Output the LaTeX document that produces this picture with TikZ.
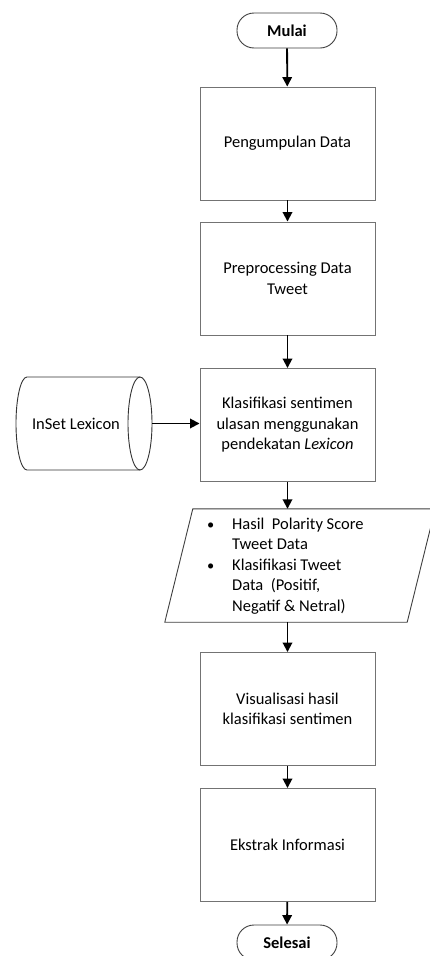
\documentclass[tikz,border=0pt]{standalone}
\usepackage{fontspec}
\setmainfont{Carlito}
\usetikzlibrary{arrows.meta}
\begin{document}
\begin{tikzpicture}[x=1pt,y=-1pt,
  every node/.style={font=\fontsize{16.5}{20.5}\selectfont, text=black},
  procbox/.style={draw=black!55, line width=0.9pt, minimum width=175pt, minimum height=113pt, inner sep=0pt, align=center},
  termbox/.style={draw=black!75, line width=0.9pt, rounded corners=17pt, minimum width=100pt, minimum height=35pt, inner sep=0pt, font=\fontsize{16.5}{18}\selectfont\bfseries},
  flow/.style={line width=1.8pt, -{Triangle[length=9.5pt,width=9.5pt]}}
]
\useasboundingbox (0,0) rectangle (430,956);
\fill[white] (0,0) rectangle (430,956);

\node[termbox] (mulai) at (287,30.5) {Mulai};
\node[procbox] (b1) at (287.5,143.5) {Pengumpulan Data};
\node[procbox] (b2) at (287.5,278.5) {Preprocessing Data\\Tweet};
\node[procbox] (b3) at (287.5,425) {Klasifikasi sentimen\\ulasan menggunakan\\pendekatan \textit{Lexicon}};
\node[draw=none, minimum width=242pt, minimum height=113pt, inner sep=0pt] (par) at (300,565.5) {};
\draw[black!75, line width=0.9pt] ([xshift=14pt]par.north west) -- ([xshift=14pt]par.north east)
  -- ([xshift=-14pt]par.south east) -- ([xshift=-14pt]par.south west) -- cycle;
\node[anchor=west, inner sep=0pt, align=left] (partext) at (207,566) {%
  \begin{tabular}{@{}p{25pt}@{}l@{}}
  {\Large\textbullet} & Hasil\ \ Polarity Score\\
   & Tweet Data\\
  {\Large\textbullet} & Klasifikasi Tweet\\
   & Data\ \ (Positif,\\
   & Negatif \& Netral)
  \end{tabular}};
\node[procbox] (b4) at (287.5,709) {Visualisasi hasil\\klasifikasi sentimen};
\node[procbox] (b5) at (287.5,845) {Ekstrak Informasi};
\node[termbox] (selesai) at (287,942.5) {Selesai};

% cylinder (horizontal)
\node[inner sep=0pt, minimum width=136pt, minimum height=93pt] (cyl) at (84,423.5) {};
\draw[black!80, line width=0.9pt] (27,377) -- (140,377)
  (140,470) -- (27,470)
  .. controls (20.9,470) and (16,449.2) .. (16,423.5)
  .. controls (16,397.8) and (20.9,377) .. (27,377);
\draw[black!80, line width=0.9pt] (140,423.5) ellipse [x radius=12, y radius=46.5];
\coordinate (cylr) at (152,423.5);
\node (cyltext) at (76,423.5) {InSet Lexicon};

\draw[flow] (mulai) -- (b1);
\draw[flow] (b1) -- (b2);
\draw[flow] (b2) -- (b3);
\draw[flow] (b3.south) -- (b3.south |- par.north);
\draw[flow] (b3.south |- par.south) -- (b4.north);
\draw[flow] (b4) -- (b5);
\draw[flow] (b5) -- (selesai);
\draw[flow] (cylr) -- (b3.west |- cylr);
\end{tikzpicture}
\end{document}
